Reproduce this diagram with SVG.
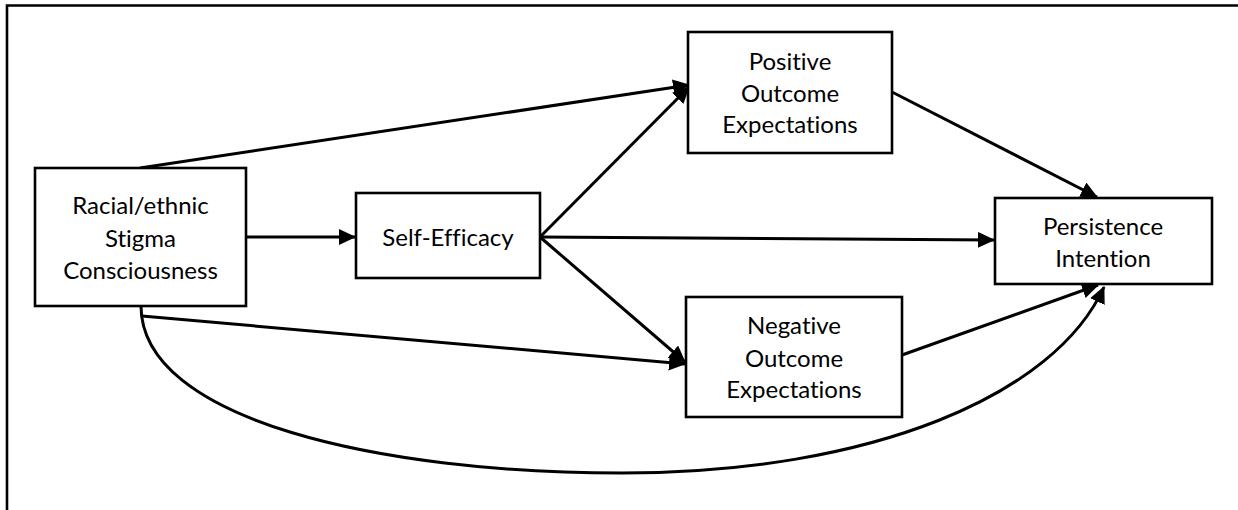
<svg xmlns="http://www.w3.org/2000/svg" width="1238" height="510" viewBox="0 0 1238 510">
<style>
.box{fill:#fff;stroke:#000;stroke-width:2.6}
.lbl{font-family:Lato,"Liberation Sans",sans-serif;font-size:24px;fill:#000;text-anchor:middle;font-variant-ligatures:none}
.edge{fill:none;stroke:#000;stroke-width:3}
.frame{fill:none;stroke:#000;stroke-width:2.6}
</style>
<defs>
<marker id="ah" markerUnits="userSpaceOnUse" markerWidth="17" markerHeight="16" viewBox="0 0 17 16" refX="16" refY="8" orient="auto">
<path d="M0,0 L17,8 L0,16 z" fill="#000"/>
</marker>
</defs>
<path class="frame" d="M7,510 V5.5 H1238"/>
<g id="connectors">
<path class="edge" d="M140,168 L689,85" marker-end="url(#ah)"/>
<path class="edge" d="M540,237 L689,87" marker-end="url(#ah)"/>
<path class="edge" d="M246,237 L355,237" marker-end="url(#ah)"/>
<path class="edge" d="M540,237 L994,240" marker-end="url(#ah)"/>
<path class="edge" d="M540,237 L685,362" marker-end="url(#ah)"/>
<path class="edge" d="M142,316 L685,364" marker-end="url(#ah)"/>
<path class="edge" d="M892,92 L1097,197" marker-end="url(#ah)"/>
<path class="edge" d="M902,355 L1098,285" marker-end="url(#ah)"/>
<path class="edge" d="M141,306 C141,420 380,473 622,473 C872,473 1055,395 1104,287" marker-end="url(#ah)"/>
</g>
<g id="racial">
<rect class="box" x="35" y="168" width="211" height="138"/>
<text class="lbl" x="140.5" y="214">Racial/ethnic</text>
<text class="lbl" x="140.5" y="247">Stigma</text>
<text class="lbl" x="140.5" y="279">Consciousness</text>
</g>
<g id="selfefficacy">
<rect class="box" x="356" y="193" width="184" height="85"/>
<text class="lbl" x="448" y="246">Self-Efficacy</text>
</g>
<g id="positive">
<rect class="box" x="688" y="32" width="204" height="121"/>
<text class="lbl" x="790" y="70">Positive</text>
<text class="lbl" x="790" y="102">Outcome</text>
<text class="lbl" x="790" y="133">Expectations</text>
</g>
<g id="negative">
<rect class="box" x="686" y="297" width="216" height="120"/>
<text class="lbl" x="794" y="334">Negative</text>
<text class="lbl" x="794" y="367">Outcome</text>
<text class="lbl" x="794" y="398">Expectations</text>
</g>
<g id="persistence">
<rect class="box" x="995" y="198" width="217" height="86"/>
<text class="lbl" x="1103" y="235">Persistence</text>
<text class="lbl" x="1103" y="267">Intention</text>
</g>
</svg>
